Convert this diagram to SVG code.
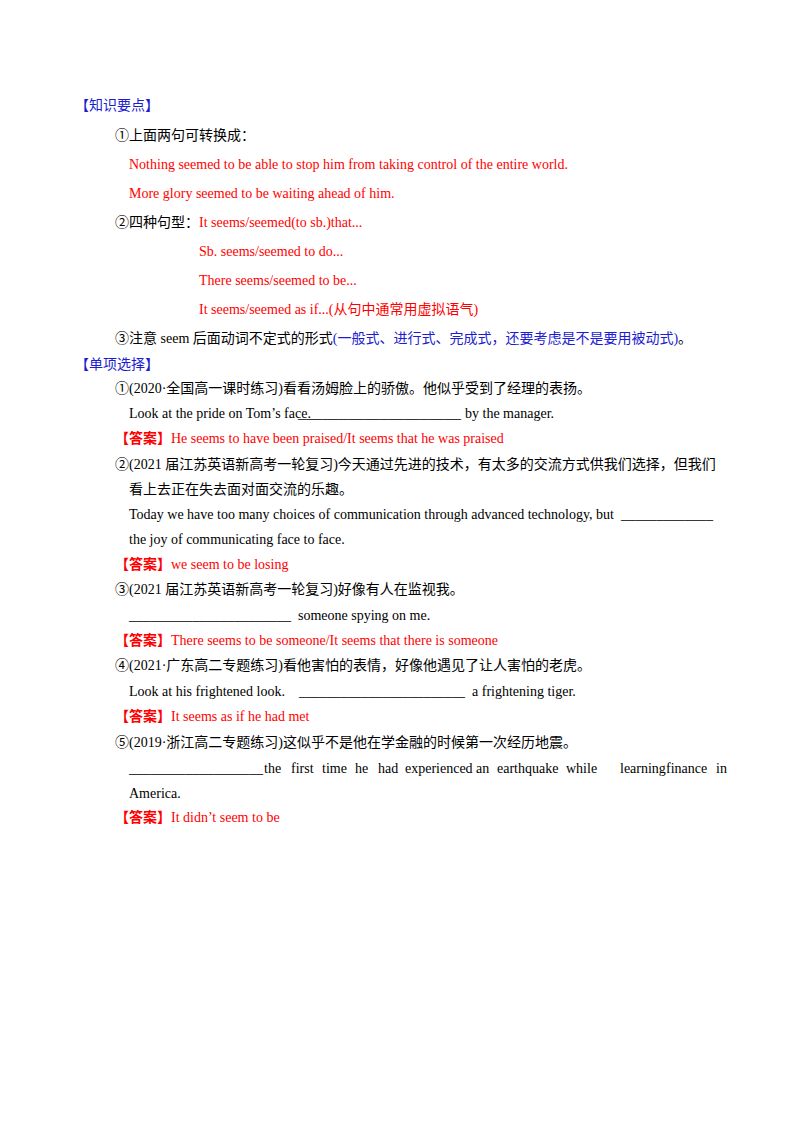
<svg xmlns="http://www.w3.org/2000/svg" width="800" height="1132" viewBox="0 0 800 1132">
<style>
text{font-family:"Liberation Serif","Noto Sans CJK SC",serif;font-size:14px;fill:#000}
.r{fill:#f00}.b{fill:#1c1cd0}.k{font-weight:bold}
</style>
<rect width="800" height="1132" fill="#fff"/>
<text x="75" y="110" class="b">【知识要点】</text>
<text x="115" y="140">①上面两句可转换成：</text>
<text x="129" y="169" class="r">Nothing seemed to be able to stop him from taking control of the entire world.</text>
<text x="129" y="198" class="r">More glory seemed to be waiting ahead of him.</text>
<text x="115" y="227">②四种句型：<tspan class="r">It seems/seemed(to sb.)that...</tspan></text>
<text x="199" y="256" class="r">Sb. seems/seemed to do...</text>
<text x="199" y="285" class="r">There seems/seemed to be...</text>
<text x="199" y="314" class="r">It seems/seemed as if...(从句中通常用虚拟语气)</text>
<text x="115" y="343">③注意 seem 后面动词不定式的形式<tspan class="b">(一般式、进行式、完成式，还要考虑是不是要用被动式)</tspan>。</text>
<text x="75" y="369" class="b">【单项选择】</text>
<text x="115" y="393">①(2020·全国高一课时练习)看看汤姆脸上的骄傲。他似乎受到了经理的表扬。</text>
<text x="129" y="418">Look at the pride on Tom’s face.</text>
<text x="298" y="418" textLength="163" lengthAdjust="spacingAndGlyphs">____________________</text>
<text x="465" y="418">by the manager.</text>
<text x="115" y="443" class="r"><tspan class="k">【答案】</tspan>He seems to  have been praised/It  seems  that he was praised</text>
<text x="115" y="469">②(2021 届江苏英语新高考一轮复习)今天通过先进的技术，有太多的交流方式供我们选择，但我们</text>
<text x="129" y="494">看上去正在失去面对面交流的乐趣。</text>
<text x="129" y="519">Today we have too many choices of communication through advanced technology, but</text>
<text x="621" y="519" textLength="92" lengthAdjust="spacingAndGlyphs">_____________</text>
<text x="129" y="544">the joy of communicating face to face.</text>
<text x="115" y="569" class="r"><tspan class="k">【答案】</tspan>we seem  to be losing</text>
<text x="115" y="594">③(2021 届江苏英语新高考一轮复习)好像有人在监视我。</text>
<text x="129" y="620" textLength="162" lengthAdjust="spacingAndGlyphs">_______________________</text>
<text x="298" y="620">someone spying on me.</text>
<text x="115" y="645" class="r"><tspan class="k">【答案】</tspan>There seems to be someone/It seems that there is someone</text>
<text x="115" y="670">④(2021·广东高二专题练习)看他害怕的表情，好像他遇见了让人害怕的老虎。</text>
<text x="129" y="696">Look at his  frightened look.</text>
<text x="299" y="696" textLength="166" lengthAdjust="spacingAndGlyphs">________________________</text>
<text x="472" y="696">a frightening tiger.</text>
<text x="115" y="721" class="r"><tspan class="k">【答案】</tspan>It seems as if he had met</text>
<text x="115" y="747">⑤(2019·浙江高二专题练习)这似乎不是他在学金融的时候第一次经历地震。</text>
<text y="773"><tspan x="129" textLength="134" lengthAdjust="spacingAndGlyphs">___________________</tspan><tspan x="264">the</tspan><tspan x="291">first</tspan><tspan x="322">time</tspan><tspan x="355">he</tspan><tspan x="378">had</tspan><tspan x="405">experienced</tspan><tspan x="476">an</tspan><tspan x="497">earthquake</tspan><tspan x="566">while</tspan><tspan x="620">learning</tspan><tspan x="666">finance</tspan><tspan x="716">in</tspan></text>
<text x="129" y="798">America.</text>
<text x="115" y="822" class="r"><tspan class="k">【答案】</tspan>It didn’t seem to be</text>
</svg>
